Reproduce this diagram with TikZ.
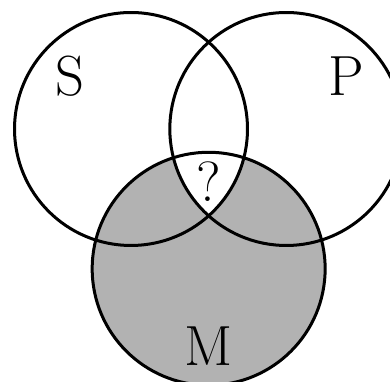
\documentclass[tikz,border=0pt]{standalone}
\begin{document}
\begin{tikzpicture}[
  set/.style={draw, line width=1.1pt},
  setname/.style={font=\huge, inner sep=0pt}
]
\useasboundingbox (-1.687,-3.257) rectangle (3.335,1.661);
\coordinate (s) at (0,0);
\coordinate (p) at (2,0);
\coordinate (m) at (1,-1.8);

% shaded middle term, with the common part of S and P left open
\fill[black!30] (m) circle (1.5);
\begin{scope}
  \clip (s) circle (1.5);
  \clip (p) circle (1.5);
  \fill[white] (m) circle (1.5);
\end{scope}

\draw[set] (s) circle (1.5);
\draw[set] (p) circle (1.5);
\draw[set] (m) circle (1.5);

\node[setname] (sname) at (-0.79,0.68) {S};
\node[setname] (pname) at (2.77,0.68) {P};
\node[setname] (mname) at (1,-2.8) {M};
\node[setname] (qmark) at (1,-0.68) {?};
\end{tikzpicture}
\end{document}
